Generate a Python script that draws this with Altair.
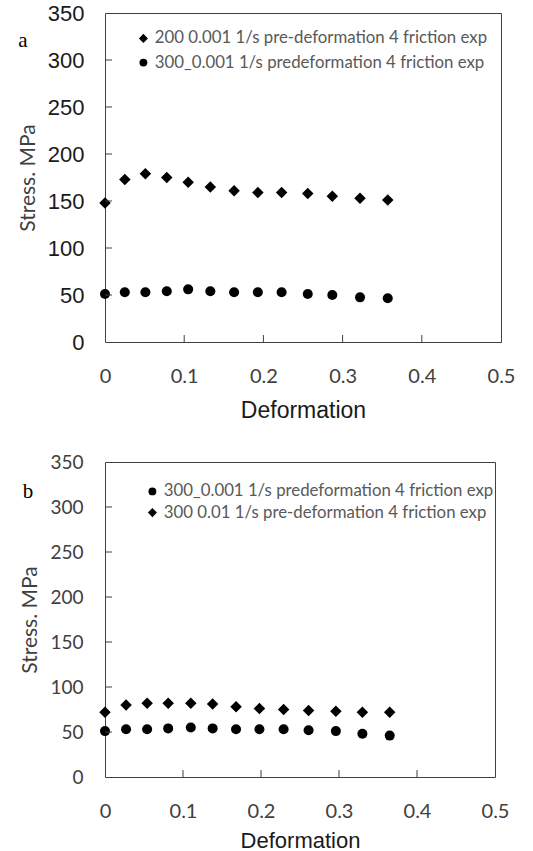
import altair as alt
import pandas as pd

# ---- data ----
deformation_a = [0, 0.025, 0.051, 0.078, 0.105, 0.133, 0.163, 0.193, 0.223, 0.256, 0.287, 0.322, 0.357]
stress_a_200_0001 = [148, 173, 179, 175, 170, 165, 161, 159, 159, 158, 155, 153, 151]
stress_a_300_0001 = [51, 53, 53, 54, 56, 54, 53, 53, 53, 51, 50, 47.5, 46.5]

deformation_b = [0, 0.027, 0.054, 0.081, 0.110, 0.138, 0.168, 0.198, 0.229, 0.261, 0.296, 0.330, 0.365]
stress_b_300_0001 = [51, 53, 53, 54, 55, 54, 53, 53, 53, 52, 51, 48, 46]
stress_b_300_001 = [72, 80, 82, 82, 82, 81, 78, 76, 75, 74, 73, 72, 72]

DIAMOND = "M-1.15,0L0,-1.15L1.15,0L0,1.15Z"
series_a = ["200 0.001 1/s pre-deformation 4 friction exp",
            "300_0.001 1/s predeformation 4 friction exp"]
shapes_a = [DIAMOND, "circle"]
series_b = ["300_0.001 1/s predeformation 4 friction exp",
            "300 0.01 1/s pre-deformation 4 friction exp"]
shapes_b = ["circle", DIAMOND]

x_label_values = [0, 0.1, 0.2, 0.3, 0.4, 0.5]
y_label_values = [0, 50, 100, 150, 200, 250, 300, 350]
x_inner_ticks = [0.1, 0.2, 0.3, 0.4]
y_inner_ticks = [50, 100, 150, 200, 250, 300]

df_a = pd.DataFrame({
    "deformation": deformation_a * 2,
    "stress": stress_a_200_0001 + stress_a_300_0001,
    "series": [series_a[0]] * len(deformation_a) + [series_a[1]] * len(deformation_a),
})
df_b = pd.DataFrame({
    "deformation": deformation_b * 2,
    "stress": stress_b_300_0001 + stress_b_300_001,
    "series": [series_b[0]] * len(deformation_b) + [series_b[1]] * len(deformation_b),
})

AX = "#404040"


def panel(df, series, shapes, w, h, letter, letter_x, letter_y, legend_x, legend_y,
          row_pad, y_font, y_size, y_color, y_pad, y_title_pad, x_title_pad, x_title_size):
    xs = alt.Scale(domain=[0, 0.5], nice=False, zero=False)
    ys = alt.Scale(domain=[0, 350], nice=False)
    pts = alt.Chart(df).mark_point(filled=True, opacity=1, size=100).encode(
        x=alt.X("deformation:Q", scale=xs, axis=alt.Axis(
            values=x_label_values, format="~g", title="Deformation",
            domain=False, ticks=False, grid=False,
            labelFont="Lato", labelFontSize=20, labelColor=AX, labelPadding=24,
            titleFont="Liberation Sans", titleFontSize=x_title_size, titleFontWeight="normal",
            titleColor="#1a1a1a", titlePadding=x_title_pad, labelFlush=False)),
        y=alt.Y("stress:Q", scale=ys, axis=alt.Axis(
            values=y_label_values, format="d", title="Stress. MPa",
            domain=False, ticks=False, grid=False,
            labelFont=y_font, labelFontSize=y_size, labelColor=y_color, labelPadding=y_pad,
            titleFont="Lato", titleFontSize=21, titleFontWeight="normal",
            titleColor=AX, titlePadding=y_title_pad, labelFlush=False)),
        shape=alt.Shape("series:N", scale=alt.Scale(domain=series, range=shapes),
                        legend=alt.Legend(
                            title=None, orient="none", legendX=legend_x, legendY=legend_y,
                            labelFont="Lato", labelFontSize=16.8, labelColor="#595959",
                            symbolSize=62, symbolFillColor="black", symbolStrokeWidth=0,
                            rowPadding=row_pad, labelOffset=3, padding=0, labelLimit=0)),
        color=alt.value("black"),
    )
    yt = alt.Chart(pd.DataFrame({"stress": y_inner_ticks})).mark_rule(
        color=AX, strokeWidth=1).encode(
        y=alt.Y("stress:Q", scale=ys), x=alt.value(0), x2=alt.value(7))
    xt = alt.Chart(pd.DataFrame({"deformation": x_inner_ticks})).mark_rule(
        color=AX, strokeWidth=1).encode(
        x=alt.X("deformation:Q", scale=xs), y=alt.value(h), y2=alt.value(h - 7))
    lt = alt.Chart(pd.DataFrame({"t": [letter]})).mark_text(
        font="Liberation Serif", fontSize=21, baseline="alphabetic", align="center",
        color="black").encode(text="t:N", x=alt.value(letter_x), y=alt.value(letter_y))
    return alt.layer(pts, yt, xt, lt).properties(width=w, height=h)


pa = panel(df_a, series_a, shapes_a, 396, 329, "a", -82, 34, 30, 17, 6.2,
           "Liberation Sans", 22, "#1a1a1a", 21, 9, 13, 23)
pb = panel(df_b, series_b, shapes_b, 390, 315, "b", -77, 36, 39, 21, 3.2,
           "Lato", 19, AX, 22, 9, 9, 22)

chart = alt.vconcat(pa, pb, spacing=29).resolve_scale(
    x="independent", y="independent", shape="independent"
).resolve_legend(shape="independent").properties(
    padding={"left": 16, "top": 1, "right": 5, "bottom": 0}
).configure_view(stroke=AX, strokeWidth=1)

chart.save("out.html", embed_options={"renderer": "svg", "actions": False})
